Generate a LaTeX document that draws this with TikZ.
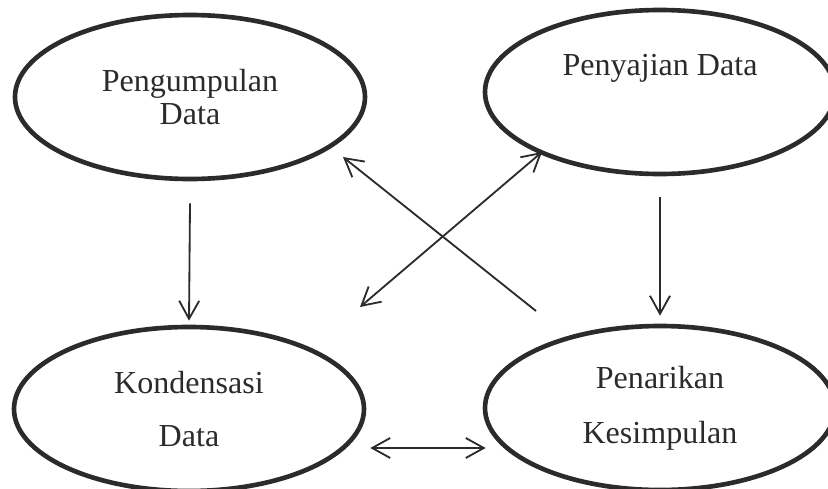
\documentclass[tikz,border=0pt]{standalone}
\usepackage{fontspec}
\setmainfont{Liberation Serif}
\usetikzlibrary{arrows.meta, shapes.geometric}
\definecolor{ink}{HTML}{2B2B2B}

\begin{document}
\begin{tikzpicture}[
    >={Straight Barb[length=4.5mm, width=5mm]},
    oval/.style={ellipse, draw=ink, line width=3.3pt, minimum width=8.75cm,
      minimum height=4.1cm, align=center, text=ink, inner sep=0pt,
      font=\fontsize{22.8}{23.5}\selectfont},
    lbl/.style={text=ink, font=\fontsize{22.8}{23.5}\selectfont},
    arr/.style={->, line width=1.3pt, ink},
    dbl/.style={arr, <->},
  ]
  \useasboundingbox (0,0) rectangle (20.7,12.2);
  % the four stages
  \node[oval] (kumpul) at (4.75,9.775) {Pengumpulan\\Data};
  \node[oval] (sajian) at (16.5,9.9) {};
  \node[lbl] (sajiantxt) at ([yshift=6mm]sajian.center) {Penyajian Data};
  \node[oval] (kond) at (4.725,1.975) {Kondensasi\\[5mm]Data};
  \node[oval] (tarik) at (16.5,2.0) {Penarikan\\[5.5mm]Kesimpulan};
  % flow
  \draw[arr] ([yshift=-5.5mm]kumpul.south) -- ([yshift=1mm]kond.north);
  \draw[arr] ([yshift=-5.25mm]sajian.south) -- ([yshift=2mm]tarik.north);
  \draw[dbl] ([xshift=1mm, yshift=-9.75mm]kond.east)
    -- ([xshift=0.75mm, yshift=-10mm]tarik.west);
  \draw[arr] ([xshift=-3.1cm, yshift=2.425cm]tarik.center)
    -- ([xshift=3.825cm, yshift=-1.5cm]kumpul.center);
  \draw[dbl] ([xshift=4.275cm, yshift=2.55cm]kond.center)
    -- ([xshift=-2.95cm, yshift=-1.5cm]sajian.center);
\end{tikzpicture}
\end{document}
